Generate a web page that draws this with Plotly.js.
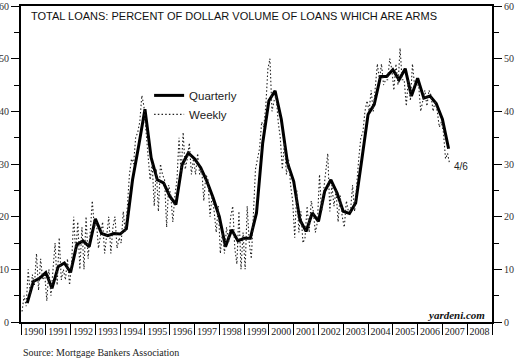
<!DOCTYPE html>
<html>
<head>
<meta charset="utf-8">
<script src="https://cdn.plot.ly/plotly-3.0.1.min.js"></script>
<style>
html,body{margin:0;padding:0;background:#fff;}
#chart{width:516px;height:360px;}
</style>
</head>
<body>
<div id="chart"></div>
<script>
// Quarterly series: 1990 Q1 .. 2007 Q1 (plotted at end of quarter)
var quarterlyStart = 1990.25;
var quarterlyStep = 0.25;
var quarterly = [
  3.6, 7.7, 8.3, 9.4,
  6.4, 10.5, 11.2, 9.4,
  14.7, 15.4, 14.3, 19.6,
  16.8, 16.4, 16.8, 16.7,
  17.7, 27.0, 33.5, 40.4,
  31.2, 27.0, 26.4, 23.9,
  22.3, 29.9, 32.1, 31.0,
  29.3, 26.7, 23.6, 20.0,
  14.3, 17.5, 15.4, 15.9,
  15.9, 20.7, 34.0, 42.0,
  43.9, 38.5, 30.2, 26.7,
  19.4, 17.2, 20.7, 19.1,
  24.8, 27.0, 24.5, 21.0,
  20.6, 22.6, 30.9, 39.4,
  41.3, 46.6, 46.6, 47.9,
  46.0, 48.1, 42.9, 46.3,
  42.5, 42.9, 41.5, 38.5,
  32.9
];

// Weekly series at roughly monthly resolution (Jan 1990 .. Apr 2007)
var weeklyStart = 1990 + 1/24;
var weeklyStep = 1/12;
var weekly1990 = [2, 5, 3, 10, 5, 9, 7, 13, 6, 12, 8, 9];
var weekly1991 = [4, 10, 5, 10, 15, 7, 16, 8, 10, 8, 12, 7];
var weekly1992 = [11, 20, 13, 19, 10, 18, 10, 20, 12, 17, 23, 18];
var weekly1993 = [19, 14, 17, 19, 13, 17, 20, 13, 18, 20, 14, 16];
var weekly1994 = [15, 21, 17, 22, 28, 31, 30, 35, 36, 38, 43, 41];
var weekly1995 = [36, 31, 27, 30, 22, 29, 21, 30, 28, 27, 18, 26];
var weekly1996 = [24, 19, 24, 27, 35, 28, 36, 29, 31, 34, 28, 31];
var weekly1997 = [28, 32, 28, 29, 23, 28, 27, 20, 24, 21, 17, 22];
var weekly1998 = [13, 17, 13, 18, 15, 20, 22, 14, 11, 21, 10, 17];
var weekly1999 = [10, 22, 15, 12, 21, 29, 31, 33, 38, 37, 41, 48];
var weekly2000 = [50, 40, 42, 43, 38, 35, 29, 34, 28, 31, 26, 23];
var weekly2001 = [16, 25, 17, 21, 15, 16, 22, 17, 23, 21, 17, 19];
var weekly2002 = [28, 21, 25, 28, 32, 21, 26, 22, 25, 19, 24, 20];
var weekly2003 = [18, 23, 21, 21, 26, 21, 27, 31, 35, 36, 40, 42];
var weekly2004 = [40, 44, 40, 45, 49, 46, 49, 45, 46, 46, 50, 48];
var weekly2005 = [44, 49, 45, 52, 46, 46, 41, 46, 42, 49, 45, 45];
var weekly2006 = [45, 40, 42, 44, 41, 44, 43, 40, 42, 40, 37, 38];
var weekly2007 = [36, 31, 32, 30];

var weekly = [].concat(weekly1990, weekly1991, weekly1992, weekly1993, weekly1994,
  weekly1995, weekly1996, weekly1997, weekly1998, weekly1999, weekly2000,
  weekly2001, weekly2002, weekly2003, weekly2004, weekly2005, weekly2006, weekly2007);

var yearLabels = ['1990','1991','1992','1993','1994','1995','1996','1997','1998','1999',
  '2000','2001','2002','2003','2004','2005','2006','2007','2008'];

var titleText = 'TOTAL LOANS: PERCENT OF DOLLAR VOLUME OF LOANS WHICH ARE ARMS';
var sourceText = 'Source: Mortgage Bankers Association';
var lastLabel = '4/6';

var serif = 'Liberation Serif, Times New Roman, serif';
var sans = 'Liberation Sans, Arial, sans-serif';

var traces = [
  {
    type: 'scatter', mode: 'lines', name: 'Quarterly',
    x0: quarterlyStart, dx: quarterlyStep, y: quarterly,
    line: {color: '#000', width: 3},
    hoverinfo: 'skip'
  },
  {
    type: 'scatter', mode: 'lines', name: 'Weekly',
    x0: weeklyStart, dx: weeklyStep, y: weekly,
    line: {color: '#222', width: 1.1, dash: '1.5px,2.2px'},
    hoverinfo: 'skip'
  },
  {
    type: 'scatter', mode: 'lines', x: [], y: [], yaxis: 'y2', showlegend: false, hoverinfo: 'skip'
  }
];

var axisY = {
  range: [0, 60], tick0: 0, dtick: 10,
  ticks: 'outside', ticklen: 8, tickwidth: 1, tickcolor: '#000',
  minor: {tick0: 0, dtick: 5, ticks: 'outside', ticklen: 5, tickwidth: 1, tickcolor: '#000'},
  showline: true, linewidth: 2, linecolor: '#000',
  showgrid: false, zeroline: false, fixedrange: true,
  tickfont: {family: serif, size: 10, color: '#333'}
};

var layout = {
  width: 516, height: 360,
  margin: {l: 21, r: 24, t: 6, b: 38, pad: 0},
  paper_bgcolor: '#fff', plot_bgcolor: '#fff',
  showlegend: true,
  legend: {
    x: 0.272, y: 0.763, xanchor: 'left', yanchor: 'top',
    bgcolor: 'rgba(0,0,0,0)', borderwidth: 0,
    font: {family: sans, size: 11.5, color: '#222'}
  },
  xaxis: {
    range: [1990, 2009],
    tickmode: 'array',
    tickvals: yearLabels.map(function (y) { return +y + 0.5; }),
    ticktext: yearLabels,
    ticks: '', showgrid: false, zeroline: false, fixedrange: true,
    showline: true, linewidth: 2, linecolor: '#000', mirror: true,
    minor: {tickmode: 'linear', tick0: 1990, dtick: 1, ticks: 'outside', ticklen: 11, tickwidth: 1, tickcolor: '#000'},
    tickfont: {family: serif, size: 10, color: '#222'},
    ticklabelstandoff: -1
  },
  yaxis: Object.assign({}, axisY, {side: 'left'}),
  yaxis2: Object.assign({}, axisY, {side: 'right', overlaying: 'y', anchor: 'x'}),
  annotations: [
    {xref: 'paper', yref: 'paper', x: 0.017, y: 0.967, xanchor: 'left', yanchor: 'middle',
     text: titleText, showarrow: false, font: {family: sans, size: 11, color: '#111'}},
    {xref: 'x', yref: 'y', x: 2007.4, y: 29.6, xanchor: 'left', yanchor: 'middle',
     text: lastLabel, showarrow: false, font: {family: sans, size: 10, color: '#222'}},
    {xref: 'x', yref: 'y', x: 2008.8, y: 1.4, xanchor: 'right', yanchor: 'middle',
     text: '<b><i>yardeni.com</i></b>', showarrow: false, font: {family: serif, size: 11, color: '#111'}},
    {xref: 'paper', yref: 'paper', x: 0, y: -0.095, xanchor: 'left', yanchor: 'middle',
     text: sourceText, showarrow: false, font: {family: serif, size: 10, color: '#222'}}
  ]
};

Plotly.newPlot('chart', traces, layout, {displayModeBar: false, staticPlot: true});
</script>
</body>
</html>
